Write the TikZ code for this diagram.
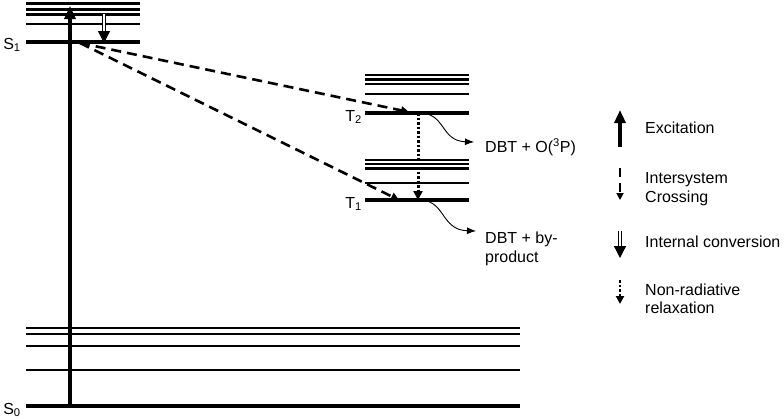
\documentclass[tikz,border=0pt]{standalone}
\usepackage{fontspec}
\setmainfont{Liberation Sans}
\usetikzlibrary{arrows.meta,positioning}

\begin{document}
\begin{tikzpicture}[x=1pt,y=-1pt,>=Latex,
  thinlevel/.style={line width=2.6pt},
  gndlevel/.style={line width=3.2pt},
  txt/.style={font=\fontsize{16}{18.5}\selectfont,inner sep=0pt,align=left},
  excite/.style={line width=3.2pt,-{Triangle[length=13pt,width=11pt]}},
  iscarrow/.style={line width=2.6pt,dash pattern=on 10pt off 6pt,-{Triangle[length=8pt,width=8pt]}},
  icarrow/.style={double,double distance=2pt,line width=1.3pt,-{Triangle[length=12pt,width=12pt]}},
  nrarrow/.style={line width=3pt,dash pattern=on 2.5pt off 2pt,-{Triangle[length=9pt,width=9pt]}},
  prod/.style={line width=0.9pt,-{Latex[length=9pt,width=7pt]}}]
\useasboundingbox (0,0) rectangle (784,418);
\draw[thinlevel] (26,3.5) -- (140,3.5);
\draw[thinlevel] (26,9.5) -- (140,9.5);
\draw[thinlevel] (26,14.5) -- (140,14.5);
\draw[thinlevel] (26,24) -- (140,24);
\draw[gndlevel] (26,42) -- (140,42);
\draw[thinlevel] (365,75) -- (469,75);
\draw[thinlevel] (365,79.5) -- (469,79.5);
\draw[thinlevel] (365,84) -- (469,84);
\draw[thinlevel] (365,94) -- (469,94);
\draw[gndlevel] (365,113) -- (469,113);
\draw[thinlevel] (365,160) -- (469,160);
\draw[thinlevel] (365,164) -- (469,164);
\draw[thinlevel] (365,168.5) -- (469,168.5);
\draw[thinlevel] (365,183) -- (469,183);
\draw[gndlevel] (365,200) -- (469,200);
\draw[thinlevel] (26,328) -- (520,328);
\draw[thinlevel] (26,334) -- (520,334);
\draw[thinlevel] (26,346) -- (520,346);
\draw[thinlevel] (26,370) -- (520,370);
\draw[gndlevel] (26,406) -- (520,406);
\node[txt] (s1) at (12,45) {S\textsubscript{1}};
\node[txt] (s0) at (12,410) {S\textsubscript{0}};
\node[txt,anchor=east] (t2) at (362,117) {T\textsubscript{2}};
\node[txt,anchor=east] (t1) at (362,204) {T\textsubscript{1}};
\coordinate (exbot) at (70,406);
\coordinate (extop) at (70,6);
\coordinate (ictop) at (104,14);
\coordinate (icbot) at (104,43);
\coordinate (iscsrc) at (80,43);
\coordinate (isct2) at (409,112);
\coordinate (isct1) at (399,200);
\coordinate (t2x) at (418,113);
\coordinate (t1x) at (418,200);
\coordinate (p2in) at (474,142);
\coordinate (p1in) at (476,231);
\node[txt,anchor=west] (p2) at (485,147) {DBT + O(\textsuperscript{3}P)};
\node[txt,anchor=west] (p1) at (485,249) {DBT + by-\\product};
\draw[excite] (exbot) -- (extop);
\draw[icarrow] (ictop) -- (icbot);
\draw[iscarrow] (iscsrc) -- (isct2);
\draw[iscarrow] (iscsrc) -- (isct1);
\draw[nrarrow] (t2x) -- (t1x);
\draw[prod] (t2x) .. controls (446,112) and (440,141) .. (p2in);
\draw[prod] (t1x) .. controls (446,199) and (440,230) .. (p1in);
\node[txt,anchor=west] (lexc) at (645,128) {Excitation};
\node[txt,anchor=west] (lisc) at (645,189) {Intersystem\\Crossing};
\node[txt,anchor=west] (lic) at (645,242) {Internal conversion};
\node[txt,anchor=west] (lnr) at (645,299) {Non-radiative\\relaxation};
\draw[excite] (620,147) -- (620,110);
\draw[line width=1.8pt,dash pattern=on 9pt off 6pt,-{Triangle[length=7pt,width=7pt]}] (620,168) -- (620,200);
\draw[icarrow] (620,231) -- (620,258);
\draw[line width=2.6pt,dash pattern=on 2.5pt off 2pt,-{Triangle[length=8pt,width=8pt]}] (620,280) -- (620,304);
\end{tikzpicture}
\end{document}
